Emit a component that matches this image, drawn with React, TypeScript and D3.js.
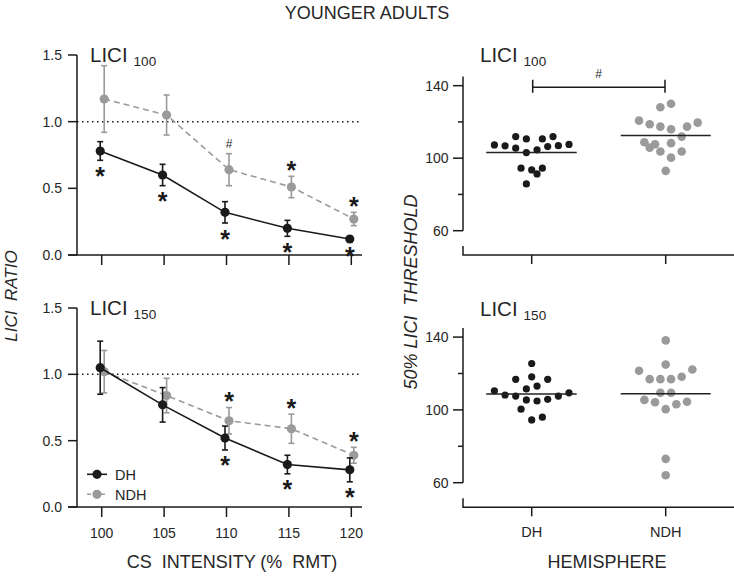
import React from "react";
import * as d3 from "d3";

// ---------- DATA ----------
const intensities = [100, 105, 110, 115, 120];

const lici100DH = [0.78, 0.6, 0.32, 0.2, 0.12];
const lici100DHErr = [0.07, 0.08, 0.08, 0.06, 0.01];
const lici100NDH = [1.17, 1.05, 0.64, 0.51, 0.27];
const lici100NDHErr = [0.25, 0.15, 0.12, 0.08, 0.05];
const lici100DHSig = ["*", "*", "*", "*", "*"];
const lici100NDHSig = ["", "", "#", "*", "*"];

const lici150DH = [1.05, 0.77, 0.52, 0.32, 0.28];
const lici150DHErr = [0.2, 0.13, 0.09, 0.07, 0.09];
const lici150NDH = [1.02, 0.84, 0.65, 0.59, 0.39];
const lici150NDHErr = [0.16, 0.13, 0.1, 0.11, 0.06];
const lici150DHSig = ["", "", "*", "*", "*"];
const lici150NDHSig = ["", "", "*", "*", "*"];

const ratioTicks = [0, 0.5, 1.0, 1.5];
const thresholdTicks = [60, 100, 140];
const thresholdMinorTicks = [80, 120];
const hemispheres = ["DH", "NDH"];

// threshold values and beeswarm jitter slot (column index)
const thr100DH = [111.9, 110.6, 110.6, 111.9, 107.3, 106.8, 105.5, 103.1, 104.6, 106.4, 106.9, 107.6, 94.5, 93.5, 94.5, 91.3, 85.8];
const thr100DHSlot = [-3, -1, 2, 4, -7, -5, -3, -1, 1, 3, 5, 7, -2, 0, 2, 1, -1];
const thr100NDH = [128.1, 130.0, 120.7, 118.7, 117.4, 116.0, 117.4, 119.6, 111.9, 108.8, 107.7, 105.8, 108.3, 103.7, 103.7, 100.3, 93.0];
const thr100NDHSlot = [-1, 1, -5, -3, -1, 1, 4, 6, 3, -4, -2, -3, 1, -1, 3, 1, 0];
const thr100Means = [103.1, 112.5];

const thr150DH = [125.5, 116.8, 118.2, 116.8, 111.5, 113.1, 110.5, 108.2, 107.6, 105.5, 104.9, 105.8, 107.6, 109.4, 100.4, 94.5, 96.0];
const thr150DHSlot = [0, -3, 0, 3, -1, 1, -7, -5, -3, -1, 1, 3, 5, 7, -2, 0, 2];
const thr150NDH = [138.2, 124.9, 121.5, 122.2, 116.9, 116.9, 116.9, 118.2, 109.4, 109.4, 105.5, 104.2, 100.4, 103.1, 104.5, 73.1, 64.1];
const thr150NDHSlot = [0, 0, -5, 5, -3, -1, 1, 3, -1, 1, -4, -2, 0, 2, 4, 0, 0];
const thr150Means = [108.7, 108.9];

// ---------- STYLE ----------
const FONT = "'Liberation Sans', Arial, Helvetica, sans-serif";
const DARK = "#1a1a1a";
const GREY = "#9a9a9a";
const TXT = "#262626";

const xRatio = d3.scaleLinear().domain([100, 120]).range([101.7, 351.3]);
const xHemi = d3.scalePoint<string>().domain(hemispheres).range([531.7, 665.7]);

function RatioPanel(props: {
  y0: number; y1: number; sub: string;
  dh: number[]; dhErr: number[]; ndh: number[]; ndhErr: number[];
  dhSig: string[]; ndhSig: string[]; showXLabels: boolean; legend: boolean;
}) {
  const { y0, y1, sub, dh, dhErr, ndh, ndhErr, dhSig, ndhSig, showXLabels, legend } = props;
  const y = d3.scaleLinear().domain([0, 1.5]).range([y0, y1]);
  const axisX = 77;
  const xEnd = 362;
  const dhOff = -1.5;
  const ndhOff = 2.5;
  const lineDH = d3.line<number>().x((_, i) => xRatio(intensities[i]) + dhOff).y((d) => y(d));
  const lineNDH = d3.line<number>().x((_, i) => xRatio(intensities[i]) + ndhOff).y((d) => y(d));
  const star = 25;
  return (
    <g>
      <line x1={axisX} x2={xEnd} y1={y(1)} y2={y(1)} stroke={DARK} strokeWidth={1.5} strokeDasharray="1.5,3.5" />
      <line x1={axisX} x2={axisX} y1={y(1.5)} y2={y(0)} stroke={DARK} strokeWidth={1.5} />
      <line x1={68} x2={xEnd} y1={y(0)} y2={y(0)} stroke={DARK} strokeWidth={1.5} />
      {ratioTicks.map((t) => (
        <g key={t}>
          <line x1={68} x2={axisX} y1={y(t)} y2={y(t)} stroke={DARK} strokeWidth={1.5} />
          <text x={62} y={y(t)} dy="0.35em" textAnchor="end" fontSize={14} fill={TXT} fontFamily={FONT}>
            {t.toFixed(1)}
          </text>
        </g>
      ))}
      {intensities.map((v) => (
        <g key={v}>
          <line x1={xRatio(v)} x2={xRatio(v)} y1={y(0)} y2={y(0) + 10} stroke={DARK} strokeWidth={1.5} />
          {showXLabels && (
            <text x={xRatio(v)} y={538} textAnchor="middle" fontSize={14} fill={TXT} fontFamily={FONT}>
              {v}
            </text>
          )}
        </g>
      ))}
      <text x={90} y={y1 + 7} fontSize={20.5} fill={TXT} fontFamily={FONT}>
        LICI
        <tspan dx={6} dy={4} fontSize={13.5}>{sub}</tspan>
      </text>
      <path d={lineNDH(ndh) || ""} fill="none" stroke={GREY} strokeWidth={1.6} strokeDasharray="6,4" />
      {ndh.map((v, i) => {
        const cx = xRatio(intensities[i]) + ndhOff;
        return (
          <g key={"n" + i}>
            <line x1={cx} x2={cx} y1={y(v - ndhErr[i])} y2={y(v + ndhErr[i])} stroke={GREY} strokeWidth={1.6} />
            <line x1={cx - 3} x2={cx + 3} y1={y(v + ndhErr[i])} y2={y(v + ndhErr[i])} stroke={GREY} strokeWidth={1.6} />
            <line x1={cx - 3} x2={cx + 3} y1={y(v - ndhErr[i])} y2={y(v - ndhErr[i])} stroke={GREY} strokeWidth={1.6} />
            <circle cx={cx} cy={y(v)} r={4.6} fill={GREY} />
          </g>
        );
      })}
      <path d={lineDH(dh) || ""} fill="none" stroke={DARK} strokeWidth={1.6} />
      {dh.map((v, i) => {
        const cx = xRatio(intensities[i]) + dhOff;
        return (
          <g key={"d" + i}>
            <line x1={cx} x2={cx} y1={y(v - dhErr[i])} y2={y(v + dhErr[i])} stroke={DARK} strokeWidth={1.6} />
            <line x1={cx - 3} x2={cx + 3} y1={y(v + dhErr[i])} y2={y(v + dhErr[i])} stroke={DARK} strokeWidth={1.6} />
            <line x1={cx - 3} x2={cx + 3} y1={y(v - dhErr[i])} y2={y(v - dhErr[i])} stroke={DARK} strokeWidth={1.6} />
            <circle cx={cx} cy={y(v)} r={4.6} fill={DARK} />
          </g>
        );
      })}
      {dhSig.map((s, i) =>
        s ? (
          <text key={"ds" + i} x={xRatio(intensities[i]) + dhOff} y={y(dh[i] - dhErr[i]) + 10 + star * 0.58}
            textAnchor="middle" fontSize={star} fontWeight="bold" fill={DARK} fontFamily={FONT}>{s}</text>
        ) : null
      )}
      {ndhSig.map((s, i) =>
        s === "*" ? (
          <text key={"ns" + i} x={xRatio(intensities[i]) + ndhOff} y={y(ndh[i] + ndhErr[i]) - 12 + star * 0.58}
            textAnchor="middle" fontSize={star} fontWeight="bold" fill={DARK} fontFamily={FONT}>{s}</text>
        ) : s ? (
          <text key={"ns" + i} x={xRatio(intensities[i]) + ndhOff} y={y(ndh[i] + ndhErr[i]) - 10 + 4}
            textAnchor="middle" fontSize={12} fill={TXT} fontFamily={FONT}>{s}</text>
        ) : null
      )}
      {legend && (
        <g fontFamily={FONT}>
          <line x1={87} x2={107} y1={474.3} y2={474.3} stroke={DARK} strokeWidth={1.6} />
          <circle cx={97} cy={474.3} r={4.6} fill={DARK} />
          <text x={115} y={474.3} dy="0.36em" fontSize={14.5} fill={TXT}>DH</text>
          <line x1={87} x2={107} y1={494.3} y2={494.3} stroke={GREY} strokeWidth={1.6} strokeDasharray="4,3" />
          <circle cx={97} cy={494.3} r={4.6} fill={GREY} />
          <text x={115} y={494.3} dy="0.36em" fontSize={14.5} fill={TXT}>NDH</text>
        </g>
      )}
    </g>
  );
}

function ThresholdPanel(props: {
  yBottom: number; yTop: number; xAxisY: number; titleY: number; sub: string;
  dh: number[]; dhSlot: number[]; ndh: number[]; ndhSlot: number[]; means: number[];
  showXLabels: boolean; bracket: boolean;
}) {
  const { yBottom, yTop, xAxisY, titleY, sub, dh, dhSlot, ndh, ndhSlot, means, showXLabels, bracket } = props;
  const y = d3.scaleLinear().domain([60, 145]).range([yBottom, yTop]);
  const axisX = 463;
  const slotW = 5.33;
  const cDH = xHemi("DH") as number;
  const cNDH = xHemi("NDH") as number;
  return (
    <g>
      <line x1={axisX} x2={axisX} y1={y(145)} y2={y(60)} stroke={DARK} strokeWidth={1.5} />
      {thresholdTicks.map((t) => (
        <g key={t}>
          <line x1={453} x2={axisX} y1={y(t)} y2={y(t)} stroke={DARK} strokeWidth={1.5} />
          <text x={448.5} y={y(t)} dy="0.35em" textAnchor="end" fontSize={14} fill={TXT} fontFamily={FONT}>{t}</text>
        </g>
      ))}
      {thresholdMinorTicks.map((t) => (
        <line key={t} x1={458} x2={axisX} y1={y(t)} y2={y(t)} stroke={DARK} strokeWidth={1.5} />
      ))}
      <path d={`M${axisX},${xAxisY - 9}V${xAxisY}H734`} fill="none" stroke={DARK} strokeWidth={1.5} />
      {hemispheres.map((h) => (
        <g key={h}>
          <line x1={xHemi(h)} x2={xHemi(h)} y1={xAxisY} y2={xAxisY + 9} stroke={DARK} strokeWidth={1.5} />
          {showXLabels && (
            <text x={xHemi(h)} y={537} textAnchor="middle" fontSize={14.5} fill={TXT} fontFamily={FONT}>{h}</text>
          )}
        </g>
      ))}
      <text x={480} y={titleY} fontSize={20.5} fill={TXT} fontFamily={FONT}>
        LICI
        <tspan dx={6} dy={4} fontSize={13.5}>{sub}</tspan>
      </text>
      {ndh.map((v, i) => (
        <circle key={"n" + i} cx={cNDH + ndhSlot[i] * slotW} cy={y(v)} r={4.3} fill={GREY} />
      ))}
      {dh.map((v, i) => (
        <circle key={"d" + i} cx={cDH + dhSlot[i] * slotW} cy={y(v)} r={3.6} fill={DARK} />
      ))}
      <line x1={cDH - 45.5} x2={cDH + 45} y1={y(means[0])} y2={y(means[0])} stroke={"#222"} strokeWidth={1.6} />
      <line x1={cNDH - 45} x2={cNDH + 45} y1={y(means[1])} y2={y(means[1])} stroke={"#222"} strokeWidth={1.6} />
      {bracket && (
        <g>
          <path d={`M${cDH + 1},${y(140) - 6}V${y(140) + 7}M${cDH + 1},${y(140) + 1.6}H${cNDH - 0.7}M${cNDH - 0.7},${y(140) - 6}V${y(140) + 7}`}
            fill="none" stroke={DARK} strokeWidth={1.5} />
          <text x={(cDH + cNDH) / 2} y={y(140) - 8} textAnchor="middle" fontSize={12} fill={TXT} fontFamily={FONT}>#</text>
        </g>
      )}
    </g>
  );
}

export default function App() {
  return (
    <svg width={734} height={577} viewBox="0 0 734 577"
      style={{ position: "absolute", left: 0, top: 0, background: "#fff", display: "block" }}>
      <rect x={0} y={0} width={734} height={577} fill="#fff" />
      <text x={367} y={19} textAnchor="middle" fontSize={18} fill={TXT} fontFamily={FONT}>YOUNGER ADULTS</text>

      <RatioPanel y0={255} y1={55} sub="100" dh={lici100DH} dhErr={lici100DHErr} ndh={lici100NDH} ndhErr={lici100NDHErr}
        dhSig={lici100DHSig} ndhSig={lici100NDHSig} showXLabels={false} legend={false} />
      <RatioPanel y0={507} y1={308} sub="150" dh={lici150DH} dhErr={lici150DHErr} ndh={lici150NDH} ndhErr={lici150NDHErr}
        dhSig={lici150DHSig} ndhSig={lici150NDHSig} showXLabels={true} legend={true} />

      <ThresholdPanel yBottom={230.7} yTop={76.6} xAxisY={255} titleY={62} sub="100" dh={thr100DH} dhSlot={thr100DHSlot}
        ndh={thr100NDH} ndhSlot={thr100NDHSlot} means={thr100Means} showXLabels={false} bracket={true} />
      <ThresholdPanel yBottom={482.7} yTop={328} xAxisY={507.3} titleY={316} sub="150" dh={thr150DH} dhSlot={thr150DHSlot}
        ndh={thr150NDH} ndhSlot={thr150NDHSlot} means={thr150Means} showXLabels={true} bracket={false} />

      <text transform="translate(16.5,296) rotate(-90)" textAnchor="middle" fontSize={17} fontStyle="italic"
        fill={TXT} fontFamily={FONT} style={{ whiteSpace: "pre" }}>{"LICI  RATIO"}</text>
      <text transform="translate(417,292) rotate(-90)" textAnchor="middle" fontSize={18} fontStyle="italic"
        fill={TXT} fontFamily={FONT} style={{ whiteSpace: "pre" }}>{"50% LICI  THRESHOLD"}</text>
      <text x={232} y={568} textAnchor="middle" fontSize={18} fill={TXT} fontFamily={FONT}
        style={{ whiteSpace: "pre" }}>{"CS  INTENSITY (%  RMT)"}</text>
      <text x={607} y={568} textAnchor="middle" fontSize={18} fill={TXT} fontFamily={FONT}>HEMISPHERE</text>
    </svg>
  );
}
